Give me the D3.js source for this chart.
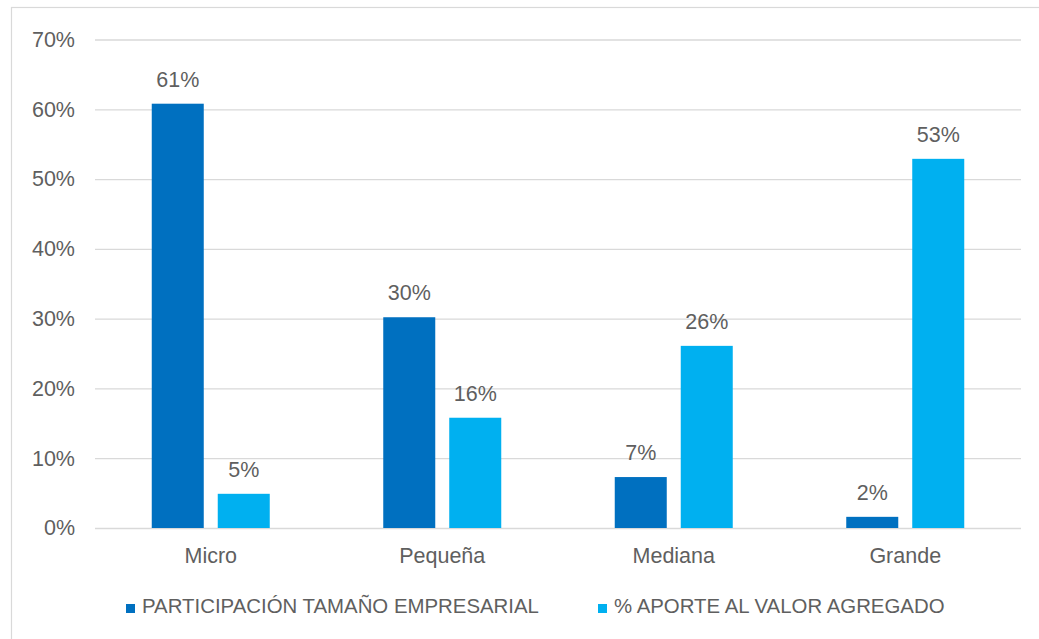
<!DOCTYPE html>
<html>
<head>
<meta charset="utf-8">
<script src="https://cdn.jsdelivr.net/npm/d3@7"></script>
<style>
  body { margin: 0; background: #fff; }
  svg { display: block; font-family: "Liberation Sans", Arial, sans-serif; }
</style>
</head>
<body>
<svg id="chart" width="1039" height="639"></svg>
<script>
const categories = ["Micro", "Pequeña", "Mediana", "Grande"];
const seriesNames = ["PARTICIPACIÓN TAMAÑO EMPRESARIAL", "% APORTE AL VALOR AGREGADO"];
const participacion = [0.608, 0.302, 0.073, 0.016];
const aporte = [0.049, 0.158, 0.261, 0.529];
const labelsParticipacion = ["61%", "30%", "7%", "2%"];
const labelsAporte = ["5%", "16%", "26%", "53%"];
const yTicks = [0, 0.1, 0.2, 0.3, 0.4, 0.5, 0.6, 0.7];
const colors = ["#0070C0", "#00B0F0"];

(function () {
const svg = d3.select("#chart");
const textColor = "#5f5f5f";
const gridColor = "#d9d9d9";

// outer border (only left/top visible in the frame)
svg.append("rect")
  .attr("x", 11.5).attr("y", 7.5)
  .attr("width", 1100).attr("height", 800)
  .attr("fill", "none").attr("stroke", "#d9d9d9").attr("stroke-width", 1.2);

const plotL = 95, plotR = 1021, plotT = 39.5, plotB = 528;

const x0 = d3.scaleBand().domain(categories).range([plotL, plotR]).paddingInner(0).paddingOuter(0);
const bw = x0.bandwidth();
const groupW = 118;
const x1 = d3.scaleBand().domain(seriesNames)
  .range([(bw - groupW) / 2, (bw + groupW) / 2])
  .paddingInner(0.212).paddingOuter(0);
const y = d3.scaleLinear().domain([0, 0.7]).range([plotB, plotT]);

// gridlines + y labels via axis
const yAxis = d3.axisLeft(y).tickValues(yTicks).tickFormat(d3.format(".0%"))
  .tickSize(-(plotR - plotL)).tickPadding(20);
const gy = svg.append("g").attr("transform", `translate(${plotL},0)`).call(yAxis);
gy.select(".domain").remove();
gy.selectAll(".tick line").attr("stroke", gridColor).attr("stroke-width", 1.3);
gy.selectAll(".tick text")
  .attr("fill", textColor).attr("font-size", 21.5).attr("x", -20)
  .attr("font-family", "Liberation Sans, Arial, sans-serif");

const data = categories.map((c, i) => ({
  cat: c,
  vals: [
    { s: seriesNames[0], v: participacion[i], label: labelsParticipacion[i], color: colors[0] },
    { s: seriesNames[1], v: aporte[i], label: labelsAporte[i], color: colors[1] }
  ]
}));

const groups = svg.append("g").selectAll("g").data(data).join("g")
  .attr("transform", d => `translate(${x0(d.cat)},0)`);

groups.selectAll("rect").data(d => d.vals).join("rect")
  .attr("x", d => x1(d.s))
  .attr("width", x1.bandwidth())
  .attr("y", d => y(d.v))
  .attr("height", d => y(0) - y(d.v))
  .attr("fill", d => d.color);

groups.selectAll("text").data(d => d.vals).join("text")
  .attr("x", d => x1(d.s) + x1.bandwidth() / 2)
  .attr("y", d => y(d.v) - 17)
  .attr("text-anchor", "middle")
  .attr("fill", textColor).attr("font-size", 21.5)
  .text(d => d.label);

// x axis labels
const xAxis = d3.axisBottom(x0).tickSize(0).tickPadding(0);
const gx = svg.append("g").attr("transform", `translate(0,${plotB})`).call(xAxis);
gx.select(".domain").remove();
gx.selectAll(".tick text")
  .attr("fill", textColor).attr("font-size", 21.5).attr("dy", 0).attr("y", 35)
  .attr("font-family", "Liberation Sans, Arial, sans-serif");

// legend
const legendX = [126, 598];
const leg = svg.append("g").selectAll("g").data(seriesNames).join("g")
  .attr("transform", (d, i) => `translate(${legendX[i]},0)`);
leg.append("rect").attr("x", 0).attr("y", 604).attr("width", 9).attr("height", 9)
  .attr("fill", (d, i) => colors[i]);
leg.append("text").attr("x", 16).attr("y", 613)
  .attr("fill", textColor).attr("font-size", 20.4)
  .text(d => d);
})();
</script>
</body>
</html>
